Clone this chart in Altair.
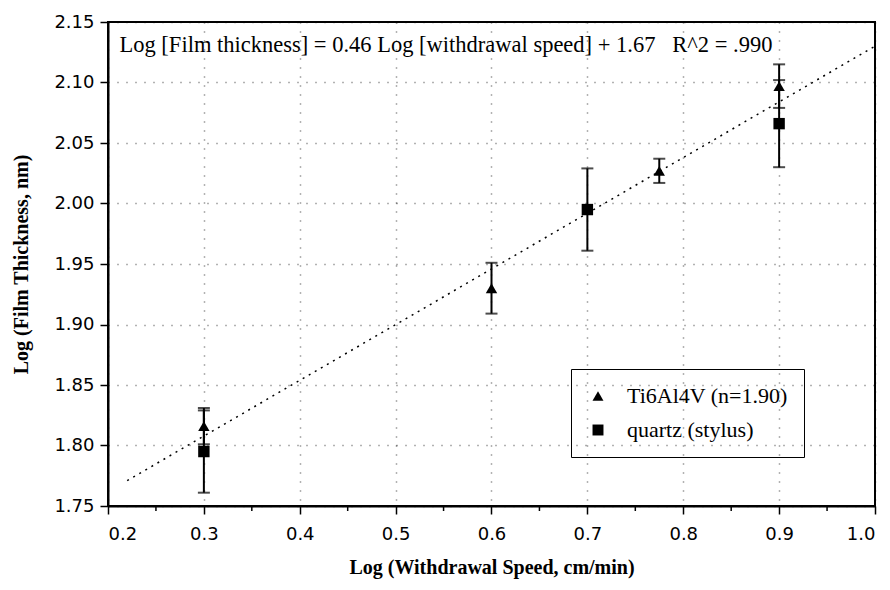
import altair as alt
import pandas as pd

# Data
tri_x = [0.3, 0.6, 0.775, 0.9]
tri_y = [1.816, 1.930, 2.027, 2.097]
tri_err = [0.015, 0.021, 0.010, 0.018]

sq_x = [0.3, 0.7, 0.9]
sq_y = [1.795, 1.995, 2.066]
sq_err = [0.034, 0.034, 0.036]

series_names = ["Ti6Al4V (n=1.90)", "quartz (stylus)"]

fit_x = [0.22, 1.0]
fit_y = [1.771, 2.130]

x_ticks = [0.2, 0.3, 0.4, 0.5, 0.6, 0.7, 0.8, 0.9, 1.0]
x_minor = [0.25, 0.35, 0.45, 0.55, 0.65, 0.75, 0.85, 0.95]
y_ticks = [1.75, 1.80, 1.85, 1.90, 1.95, 2.00, 2.05, 2.10, 2.15]

annotation = "Log [Film thickness] = 0.46 Log [withdrawal speed] + 1.67\u00a0\u00a0\u00a0R^2 = .990"

rows = []
for x, y, e in zip(tri_x, tri_y, tri_err):
    rows.append({"x": x, "y": y, "lo": y - e, "hi": y + e, "series": series_names[0]})
for x, y, e in zip(sq_x, sq_y, sq_err):
    rows.append({"x": x, "y": y, "lo": y - e, "hi": y + e, "series": series_names[1]})
df = pd.DataFrame(rows)
fit_df = pd.DataFrame({"x": fit_x, "y": fit_y})
minor_df = pd.DataFrame({"x": x_minor})

xscale = alt.Scale(domain=[0.2, 1.0], nice=False, zero=False)
yscale = alt.Scale(domain=[1.75, 2.15], nice=False, zero=False)

xaxis = alt.Axis(values=x_ticks, format=".1f", title="Log (Withdrawal Speed, cm/min)")
yaxis = alt.Axis(values=y_ticks, format=".2f", title="Log (Film Thickness, nm)")

base = alt.Chart(df)

fit = alt.Chart(fit_df).mark_line(color="black", strokeDash=[2, 5], strokeWidth=1.5).encode(
    x=alt.X("x:Q", scale=xscale, axis=xaxis),
    y=alt.Y("y:Q", scale=yscale, axis=yaxis),
)

# minor ticks on the x axis (below the plot frame)
minor = alt.Chart(minor_df).mark_rule(color="black", strokeWidth=1.5).encode(
    x=alt.X("x:Q", scale=xscale),
    y=alt.value(484),
    y2=alt.value(489),
)

bars = base.mark_rule(color="black", strokeWidth=2).encode(
    x=alt.X("x:Q", scale=xscale),
    y=alt.Y("lo:Q", scale=yscale),
    y2="hi:Q",
)
cap_lo = base.mark_tick(color="black", orient="horizontal", size=12, thickness=2).encode(
    x=alt.X("x:Q", scale=xscale),
    y=alt.Y("lo:Q", scale=yscale),
)
cap_hi = base.mark_tick(color="black", orient="horizontal", size=12, thickness=2).encode(
    x=alt.X("x:Q", scale=xscale),
    y=alt.Y("hi:Q", scale=yscale),
)

points = base.mark_point(filled=True, color="black", opacity=1).encode(
    x=alt.X("x:Q", scale=xscale),
    y=alt.Y("y:Q", scale=yscale),
    shape=alt.Shape(
        "series:N",
        scale=alt.Scale(domain=series_names, range=["triangle-up", "square"]),
        legend=alt.Legend(
            title=None,
            orient="none",
            legendX=463,
            legendY=347,
            strokeColor="black",
            padding=16,
            rowPadding=12,
            labelFont="Liberation Serif",
            labelFontSize=22,
            labelColor="black",
            labelOffset=18,
            symbolSize=120,
            symbolFillColor="black",
            symbolStrokeColor="black",
            labelLimit=300,
        ),
    ),
    size=alt.value(130),
)

text = alt.Chart(pd.DataFrame({"t": [annotation]})).mark_text(
    align="left", baseline="middle", font="Liberation Serif", fontSize=22.5, color="black"
).encode(
    x=alt.datum(0.212, scale=xscale),
    y=alt.datum(2.131, scale=yscale),
    text="t:N",
)

chart = alt.layer(fit, minor, bars, cap_lo, cap_hi, points, text).properties(
    width=767,
    height=484,
    autosize=alt.AutoSizeParams(type="none"),
    padding={"left": 100, "top": 14, "right": 7, "bottom": 76},
    background="white",
).configure_view(
    stroke="black", strokeWidth=2
).configure_axis(
    domainColor="black",
    domainWidth=2,
    tickColor="black",
    tickWidth=1.5,
    tickSize=8,
    labelFont="DejaVu Sans",
    labelFontSize=18,
    labelColor="black",
    labelPadding=6,
    titleFont="Liberation Serif",
    titleFontWeight="bold",
    titleFontSize=20,
    titleColor="black",
    grid=True,
    gridColor="black",
    gridDash=[1, 8],
    gridWidth=1.5,
    gridOpacity=0.6,
).configure_axisX(
    labelPadding=11,
    titlePadding=14,
).configure_axisY(
    titlePadding=22,
)

chart.save("out.html", embed_options={"renderer": "svg", "actions": False})
